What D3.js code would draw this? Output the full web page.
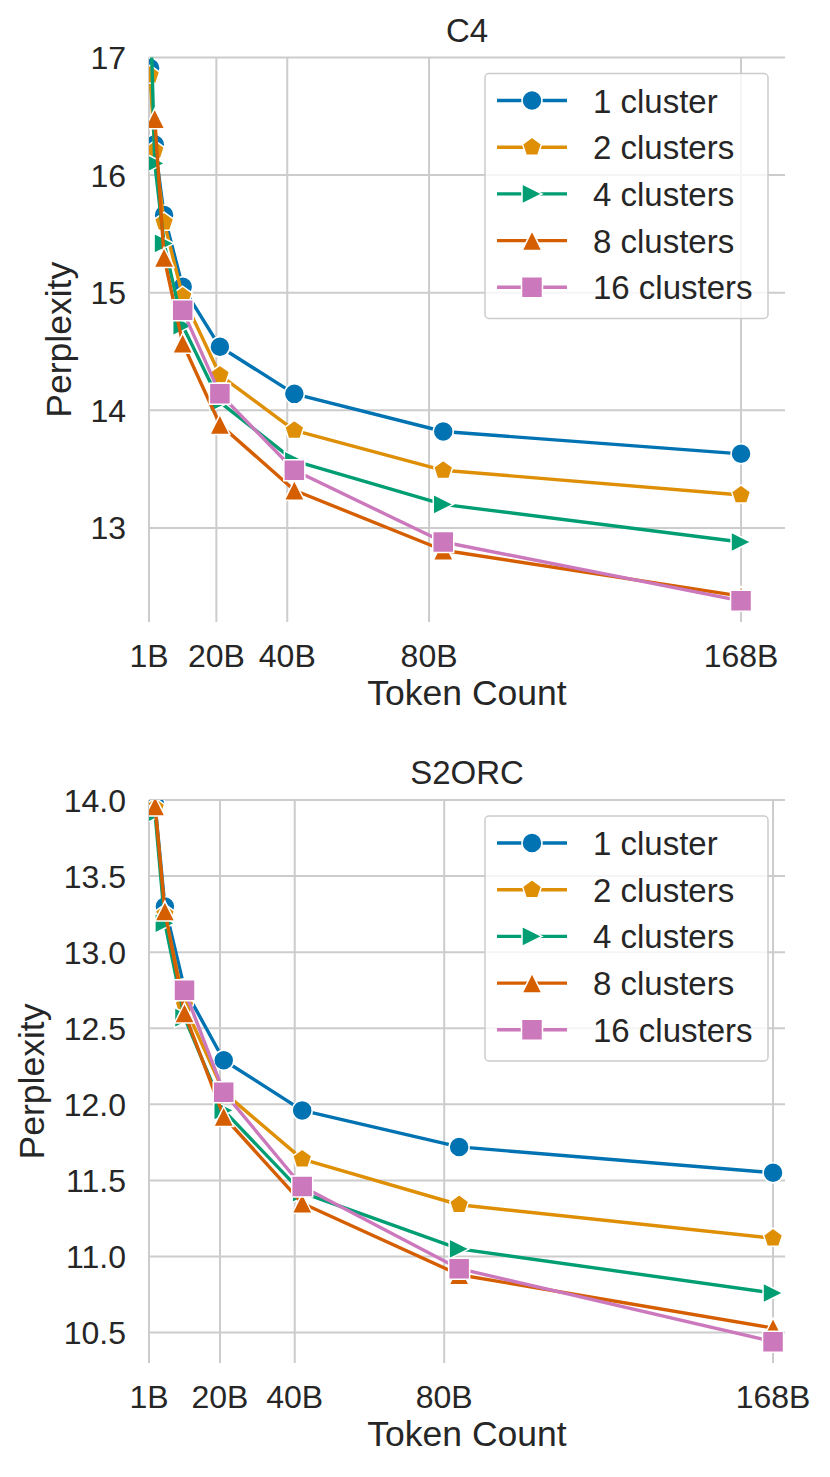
<!DOCTYPE html>
<html>
<head>
<meta charset="utf-8">
<script src="https://cdnjs.cloudflare.com/ajax/libs/d3/7.8.5/d3.min.js"></script>
<style>
  body { margin: 0; background: #fff; }
  text { font-family: "Liberation Sans", Arial, sans-serif; fill: #262626; }
</style>
</head>
<body>
<div id="chart"></div>
<script>

// token counts (billions) at each checkpoint
var tokens = [1.3125, 2.625, 5.25, 10.5, 21, 42, 84, 168];
var xTicks = [1, 20, 40, 80, 168];
var xTickLabels = ["1B", "20B", "40B", "80B", "168B"];

var seriesNames = ["1 cluster", "2 clusters", "4 clusters", "8 clusters", "16 clusters"];

// C4 perplexity
var c4_1  = [16.91, 16.26, 15.66, 15.05, 14.54, 14.14, 13.82, 13.63];
var c4_2  = [16.85, 16.21, 15.60, 14.97, 14.30, 13.83, 13.49, 13.28];
var c4_4  = [17.50, 16.10, 15.42, 14.72, 14.07, 13.57, 13.20, 12.88];
var c4_8  = [null,  16.48, 15.30, 14.57, 13.88, 13.32, 12.81, 12.42];
var c4_16 = [null,  null,  null,  14.85, 14.14, 13.49, 12.88, 12.38];
var c4Ticks = [13, 14, 15, 16, 17];

// S2ORC perplexity
var s2_1  = [null, 13.97, 13.30, 12.76, 12.29, 11.96, 11.72, 11.55];
var s2_2  = [null, 13.95, 13.25, 12.65, 12.08, 11.64, 11.34, 11.12];
var s2_4  = [null, 13.91, 13.19, 12.57, 11.96, 11.42, 11.05, 10.76];
var s2_8  = [null, 13.96, 13.27, 12.60, 11.92, 11.35, 10.88, 10.53];
var s2_16 = [null, null,  null,  12.75, 12.08, 11.46, 10.92, 10.44];
var s2Ticks = [10.5, 11.0, 11.5, 12.0, 12.5, 13.0, 13.5, 14.0];

var colors = ["#0173b2", "#de8f05", "#029e73", "#d55e00", "#cc78bc"];
var shapes = ["circle", "pentagon", "triRight", "triUp", "square"];

var svg = d3.select("#chart").append("svg")
    .attr("width", 830)
    .attr("height", 1477);

// matplotlib-like marker outlines, size = marker size in px
function markerPath(shape, s) {
  var h = s / 2;
  if (shape == "circle") {
    return "M" + h + ",0A" + h + "," + h + " 0 1,1 " + (-h) + ",0A" + h + "," + h + " 0 1,1 " + h + ",0Z";
  }
  if (shape == "square") return "M" + (-h) + "," + (-h) + "H" + h + "V" + h + "H" + (-h) + "Z";
  if (shape == "triUp") return "M0," + (-h) + "L" + h + "," + h + "L" + (-h) + "," + h + "Z";
  if (shape == "triRight") return "M" + h + ",0L" + (-h) + "," + h + "L" + (-h) + "," + (-h) + "Z";
  // pentagon
  var pts = d3.range(5).map(function(i) {
    var a = -Math.PI / 2 + i * 2 * Math.PI / 5;
    return [h * Math.cos(a), h * Math.sin(a)];
  });
  return "M" + pts.join("L") + "Z";
}

function drawPanel(cfg) {
  var left = 149, right = 785;

  var x = d3.scaleLinear().domain(cfg.xDomain).range([left, right]);
  var y = d3.scaleLinear().domain(cfg.yDomain).range([cfg.bottom, cfg.top]);

  var g = svg.append("g");

  svg.append("clipPath").attr("id", cfg.id + "-clip")
    .append("rect")
    .attr("x", left).attr("y", cfg.top)
    .attr("width", right - left).attr("height", cfg.bottom - cfg.top);

  // grid
  g.selectAll(".hgrid").data(cfg.yTicks).enter().append("line")
    .attr("x1", left).attr("x2", right)
    .attr("y1", function(d) { return y(d); })
    .attr("y2", function(d) { return y(d); })
    .attr("stroke", "#cccccc").attr("stroke-width", 2);

  g.selectAll(".vgrid").data(xTicks).enter().append("line")
    .attr("x1", function(d) { return x(d); })
    .attr("x2", function(d) { return x(d); })
    .attr("y1", cfg.top).attr("y2", cfg.bottom)
    .attr("stroke", "#cccccc").attr("stroke-width", 2);

  // tick labels
  g.selectAll(".ylab").data(cfg.yTicks).enter().append("text")
    .attr("x", 126)
    .attr("y", function(d) { return y(d) + 11.5; })
    .attr("text-anchor", "end")
    .attr("font-size", 32)
    .text(cfg.yFormat);

  g.selectAll(".xlab").data(xTicks).enter().append("text")
    .attr("x", function(d) { return x(d); })
    .attr("y", cfg.bottom + 45)
    .attr("text-anchor", "middle")
    .attr("font-size", 32)
    .text(function(d, i) { return xTickLabels[i]; });

  // axis titles
  g.append("text")
    .attr("x", (left + right) / 2)
    .attr("y", cfg.bottom + 83)
    .attr("text-anchor", "middle")
    .attr("font-size", 35.5)
    .text("Token Count");

  g.append("text")
    .attr("transform", "translate(" + cfg.yLabelX + "," + ((cfg.top + cfg.bottom) / 2) + ") rotate(-90)")
    .attr("text-anchor", "middle")
    .attr("font-size", 35.5)
    .text("Perplexity");

  g.append("text")
    .attr("x", (left + right) / 2)
    .attr("y", cfg.top - 16)
    .attr("text-anchor", "middle")
    .attr("font-size", 33)
    .text(cfg.title);

  // series
  var plot = g.append("g").attr("clip-path", "url(#" + cfg.id + "-clip)");

  var line = d3.line()
    .defined(function(d) { return d[1] != null; })
    .x(function(d) { return x(d[0]); })
    .y(function(d) { return y(d[1]); });

  cfg.series.forEach(function(vals, i) {
    var pts = tokens.map(function(t, j) { return [t, vals[j]]; });

    plot.append("path")
      .attr("d", line(pts))
      .attr("fill", "none")
      .attr("stroke", colors[i])
      .attr("stroke-width", 3.4)
      .attr("stroke-linejoin", "round");

    plot.selectAll(".m" + i)
      .data(pts.filter(function(d) { return d[1] != null; }))
      .enter().append("path")
      .attr("transform", function(d) { return "translate(" + x(d[0]) + "," + y(d[1]) + ")"; })
      .attr("d", markerPath(shapes[i], i == 4 ? 21 : 20))
      .attr("fill", colors[i])
      .attr("stroke", "#fff")
      .attr("stroke-width", 1.5);
  });

  // legend
  var lg = g.append("g").attr("transform", "translate(485," + (cfg.top + 16) + ")");
  lg.append("rect")
    .attr("width", 283).attr("height", 245)
    .attr("rx", 4)
    .attr("fill", "#fff").attr("fill-opacity", 0.8)
    .attr("stroke", "#cccccc").attr("stroke-width", 1.5);

  seriesNames.forEach(function(name, i) {
    var ry = 27 + i * 46.7;
    lg.append("line")
      .attr("x1", 12).attr("x2", 82)
      .attr("y1", ry).attr("y2", ry)
      .attr("stroke", colors[i]).attr("stroke-width", 3.4);
    lg.append("path")
      .attr("transform", "translate(47," + ry + ")")
      .attr("d", markerPath(shapes[i], i == 4 ? 21 : 20))
      .attr("fill", colors[i])
      .attr("stroke", "#fff")
      .attr("stroke-width", 1.5);
    lg.append("text")
      .attr("x", 108).attr("y", ry + 12)
      .attr("font-size", 33)
      .text(name);
  });
}

drawPanel({
  id: "c4",
  title: "C4",
  top: 57.5,
  bottom: 622,
  xDomain: [1, 180.4],
  yDomain: [12.2, 17],
  yTicks: c4Ticks,
  yFormat: d3.format("d"),
  yLabelX: 71,
  series: [c4_1, c4_2, c4_4, c4_8, c4_16]
});

drawPanel({
  id: "s2orc",
  title: "S2ORC",
  top: 800,
  bottom: 1363,
  xDomain: [1, 171.2],
  yDomain: [10.3, 14.0],
  yTicks: s2Ticks,
  yFormat: d3.format(".1f"),
  yLabelX: 44,
  series: [s2_1, s2_2, s2_4, s2_8, s2_16]
});

</script>
</body>
</html>
